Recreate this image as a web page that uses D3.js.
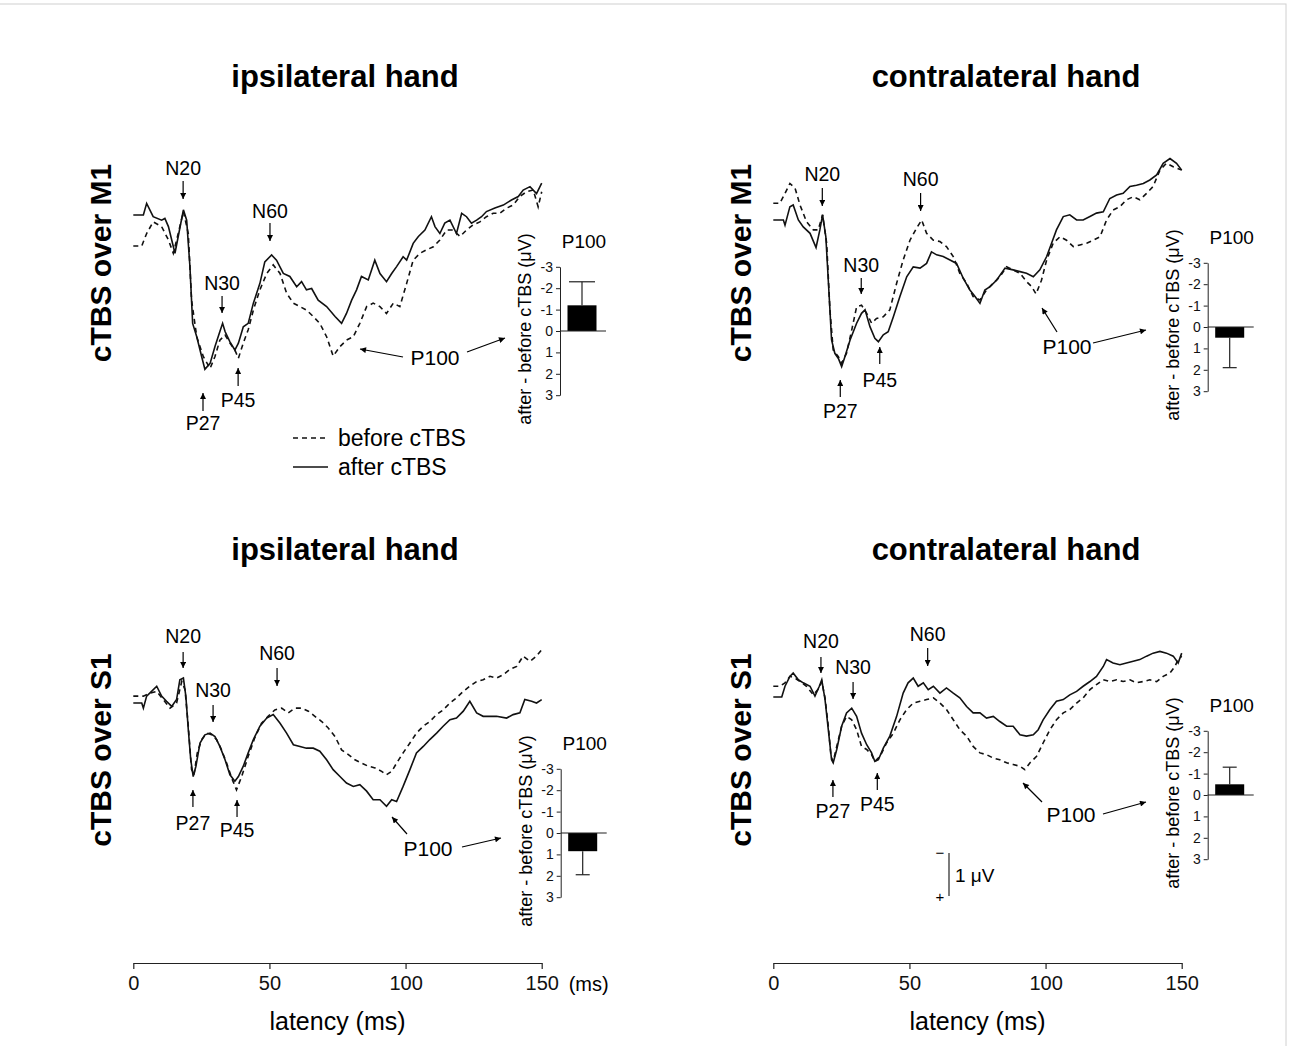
<!DOCTYPE html>
<html>
<head>
<meta charset="utf-8">
<script src="https://cdn.jsdelivr.net/npm/d3@7"></script>
<style>
body { margin: 0; background: #fff; }
svg { display: block; font-family: Arial, "Liberation Sans", sans-serif; }
</style>
</head>
<body>
<div id="chart"></div>
<script>
// grand-average SEPs, [latency ms, amplitude µV] (negative up)
var m1IpsiBefore = [[0,0.72],[3.1,0.72],[4.9,0.43],[7.3,0.16],[10.4,0.27],[12.9,0.58],[14.7,0.89],[16.5,0.43],[18.4,-0.08],[20.2,0.43],[21.4,1.98],[23.3,2.83],[25.7,3.29],[28.2,3.57],[30,3.29],[31.8,2.91],[33.7,2.79],[35.5,2.98],[37.3,3.14],[38.6,3.33],[40.4,2.98],[42.2,2.67],[44.1,2.21],[46.5,1.74],[49,1.36],[51.4,1.16],[53.9,1.36],[56.3,1.82],[58.8,2.05],[61.2,2.13],[63.6,2.21],[66.1,2.36],[68.5,2.52],[71,2.83],[73.4,3.28],[75.9,3.06],[78.3,2.91],[80.8,2.83],[83.2,2.52],[85.7,2.13],[88.1,2.05],[90.6,2.13],[93,2.29],[95.5,2.05],[97.9,2.13],[100.4,1.59],[102.8,1.05],[105.3,0.89],[107.7,0.81],[110.2,0.74],[112.6,0.58],[115.1,0.35],[117.5,0.35],[120,0.5],[122.4,0.35],[124.8,0.23],[127.3,0.16],[129.7,0.04],[132.2,-0.04],[134.6,-0.04],[137.1,-0.16],[139.5,-0.23],[142,-0.43],[144.4,-0.54],[146.9,-0.58],[148.7,-0.19],[150,-0.54]];
var m1IpsiAfter = [[0,0],[3.7,0],[4.9,-0.27],[7.3,0.04],[10.4,0.12],[11.6,0.08],[12.9,0.27],[15.3,0.89],[16.5,0.5],[18.4,-0.12],[19.6,0.12],[20.8,1.2],[21.8,2.52],[23.3,2.83],[25.1,3.29],[26.3,3.59],[28.2,3.45],[30,3.06],[31.8,2.71],[32.8,2.52],[33.7,2.71],[35.5,2.95],[37.3,3.14],[38.6,2.98],[40.4,2.6],[42.2,2.52],[44.1,2.05],[46.5,1.59],[48.3,1.09],[50.8,0.93],[52.6,1.05],[55.1,1.36],[57.5,1.43],[60,1.67],[61.8,1.55],[63.6,1.74],[65.5,1.71],[67.9,1.98],[71,2.13],[74.1,2.36],[76.5,2.52],[78.3,2.29],[80.2,1.98],[82,1.74],[83.8,1.43],[86.3,1.51],[88.7,1.05],[90.6,1.36],[93,1.55],[94.9,1.36],[96.7,1.2],[99.1,0.97],[100.4,1.05],[102.8,0.66],[104.7,0.5],[107.1,0.35],[109.5,0.04],[110.8,0.27],[112.6,0.43],[114.4,0.19],[116.3,0.12],[118.7,0.43],[120.6,-0.04],[122.4,0.04],[124.2,0.19],[126.1,0.12],[127.9,0.04],[129.7,-0.08],[132.8,-0.16],[135.9,-0.23],[138.9,-0.35],[141.4,-0.43],[143.2,-0.58],[145.7,-0.66],[148.1,-0.5],[150,-0.74]];

var m1ContraBefore = [[0,-0.39],[2.4,-0.39],[4.3,-0.62],[6.1,-0.85],[8,-0.74],[9.8,-0.35],[12.2,0.04],[14.7,0.23],[16.5,0.23],[18.1,-0.12],[19.6,0.54],[20.8,2.09],[22,3.02],[23.9,3.18],[25.1,3.33],[26.9,3.1],[28.8,2.56],[30.6,2.02],[32.4,1.98],[34.3,2.17],[36.1,2.4],[37.9,2.29],[40.4,2.25],[42.8,2.09],[45.3,1.47],[47.7,0.93],[50.2,0.47],[52.6,0.19],[54.5,0],[56.3,0.31],[58.8,0.47],[61.2,0.5],[63.6,0.62],[66.1,0.85],[68.5,1.24],[71,1.47],[73.4,1.78],[75.9,1.86],[78.3,1.63],[80.8,1.47],[83.2,1.32],[85.7,1.09],[88.1,1.16],[90.6,1.24],[93,1.43],[94.9,1.55],[96.5,1.72],[98.5,1.4],[100.4,0.93],[102.8,0.54],[105.3,0.39],[107.7,0.47],[110.2,0.62],[112.6,0.58],[115.1,0.54],[117.5,0.47],[120,0.39],[122.4,0],[124.8,-0.23],[127.3,-0.31],[129.7,-0.47],[132.2,-0.54],[134.6,-0.47],[137.1,-0.62],[139.5,-0.78],[142,-1.16],[144.4,-1.32],[146.9,-1.24],[150,-1.16]];
var m1ContraAfter = [[0,0],[3.7,0],[4.3,0.12],[6.1,-0.31],[7.3,-0.35],[9.2,0],[11,0.16],[13.5,0.31],[15.7,0.64],[17.1,0.23],[18.1,-0.12],[19.3,0.39],[20.6,1.86],[21.4,2.79],[22.6,3.1],[23.9,3.22],[25.1,3.41],[26.3,3.18],[28.2,2.79],[30.6,2.4],[32.4,2.17],[33.7,2.09],[35.5,2.48],[37.3,2.75],[38.6,2.83],[40.4,2.67],[42.2,2.6],[44.1,2.25],[46.5,1.78],[49,1.32],[51.4,1.09],[53.9,1.12],[56.3,1.01],[58.1,0.74],[60,0.81],[62.4,0.85],[64.9,0.93],[67.3,1.01],[69.8,1.36],[72.2,1.63],[74.1,1.78],[75.9,1.94],[77.7,1.63],[79.6,1.55],[82,1.4],[85.1,1.12],[88.1,1.16],[90.6,1.2],[93,1.24],[95.5,1.32],[97.9,1.16],[100.4,0.85],[102.2,0.54],[104,0.23],[106.5,-0.08],[108.9,-0.12],[111.4,0],[113.8,0],[116.3,-0.08],[118.7,-0.16],[121.2,-0.19],[123.6,-0.5],[126.1,-0.58],[128.5,-0.62],[131,-0.78],[133.4,-0.81],[135.9,-0.85],[138.3,-0.93],[140.8,-1.05],[143.2,-1.32],[145.7,-1.43],[148.1,-1.32],[150,-1.16]];

var s1IpsiBefore = [[0,-0.16],[3.7,-0.16],[6.1,-0.23],[8.6,-0.27],[11,-0.08],[13.5,0.12],[15.9,0],[17.8,-0.5],[19,-0.31],[20.2,0.54],[21.4,1.55],[22.3,1.67],[23.5,1.16],[25.1,0.85],[26.9,0.7],[28.8,0.74],[30.6,0.85],[32.4,1.09],[34.3,1.4],[36.1,1.74],[37.9,2.02],[39.8,1.71],[42.2,1.24],[44.6,0.81],[47.1,0.47],[49.5,0.31],[52,0.16],[54.5,0.12],[56.9,0.23],[59.4,0.12],[61.8,0.12],[64.3,0.19],[66.7,0.31],[69.2,0.43],[71.6,0.58],[74.1,0.78],[76.5,1.09],[79,1.2],[81.4,1.32],[83.9,1.4],[86.3,1.47],[88.8,1.51],[91.2,1.59],[93,1.67],[94.9,1.59],[96.7,1.4],[99.1,1.16],[101.6,0.93],[104,0.7],[106.5,0.54],[108.9,0.43],[111.4,0.27],[113.8,0.16],[116.3,0],[118.7,-0.12],[121.2,-0.27],[123.6,-0.39],[126.1,-0.5],[128.5,-0.54],[131,-0.62],[133.4,-0.58],[135.9,-0.66],[138.3,-0.78],[140.8,-0.85],[143.2,-1.09],[145.7,-0.97],[148.1,-1.09],[150,-1.24]];
var s1IpsiAfter = [[0,0],[3.1,0],[3.7,0.12],[4.9,-0.16],[6.7,-0.27],[8.6,-0.39],[10.4,-0.16],[12.2,-0.04],[14.1,0.08],[15.9,-0.08],[17.1,-0.54],[18.4,-0.58],[19.3,-0.16],[20.2,0.62],[21.1,1.32],[22,1.71],[23,1.47],[24.5,0.93],[26.3,0.74],[28.2,0.7],[30,0.78],[31.8,1.01],[33.7,1.32],[35.5,1.67],[37.3,1.82],[38.6,1.71],[40.4,1.47],[42.2,1.16],[44.1,0.85],[46.5,0.54],[49,0.35],[51.4,0.27],[53.9,0.47],[56.3,0.7],[58.8,0.97],[61.2,1.01],[63.6,1.05],[66.1,1.05],[68.5,1.12],[71,1.32],[73.4,1.55],[75.9,1.71],[78.3,1.86],[80.8,1.94],[83.2,1.9],[85.7,2.05],[88.1,2.25],[90.6,2.25],[93,2.4],[94.9,2.25],[96.7,2.29],[99.1,1.94],[101.6,1.55],[104,1.16],[106.5,1.01],[108.9,0.85],[111.4,0.7],[113.8,0.54],[116.3,0.39],[118.7,0.35],[121.2,0.19],[123.6,-0.04],[126.1,0.23],[128.5,0.31],[131,0.31],[133.4,0.31],[137.1,0.35],[139.5,0.27],[142,0.23],[143.8,-0.08],[146.3,-0.04],[148.1,0],[150,-0.08]];

var s1ContraBefore = [[0,-0.25],[2.4,-0.25],[4.3,-0.33],[6.1,-0.48],[8,-0.44],[9.8,-0.36],[12.2,-0.25],[14.7,-0.05],[16.9,-0.21],[17.8,-0.36],[19,0.02],[20.2,0.68],[21.2,1.38],[22,1.5],[23.3,1.15],[25.1,0.68],[26.9,0.45],[28.8,0.53],[30.6,0.76],[32.4,1.15],[34.3,1.22],[36.1,1.34],[37.3,1.5],[39.2,1.38],[41.6,1.07],[44.1,0.84],[46.5,0.53],[49,0.29],[51.4,0.14],[53.9,0.1],[56.3,0.06],[58.8,0.02],[61.2,0.14],[63.6,0.29],[66.1,0.53],[68.5,0.76],[71,0.91],[73.4,1.15],[75.9,1.3],[78.3,1.34],[80.8,1.42],[83.2,1.46],[85.7,1.53],[88.1,1.57],[90.6,1.61],[92.4,1.69],[94.3,1.53],[96.7,1.38],[99.1,1.07],[101.6,0.76],[104,0.53],[106.5,0.37],[108.9,0.29],[111.4,0.14],[113.8,0.02],[116.3,-0.17],[118.7,-0.29],[121.2,-0.4],[123.6,-0.36],[126.1,-0.4],[128.5,-0.36],[131,-0.4],[133.4,-0.33],[135.9,-0.36],[138.3,-0.4],[140.8,-0.36],[143.2,-0.48],[145.7,-0.56],[147.5,-0.71],[148.7,-0.87],[150,-0.95]];
var s1ContraAfter = [[0,0],[3.1,0],[4.3,-0.25],[6.1,-0.48],[7.3,-0.56],[9.2,-0.4],[11,-0.33],[13.5,-0.25],[15.3,-0.02],[16.9,-0.25],[17.8,-0.4],[19,0.06],[20.2,0.76],[21.4,1.46],[22,1.53],[23.3,1.22],[25.1,0.68],[26.9,0.37],[28.8,0.26],[30.6,0.45],[32.4,0.84],[34.3,1.11],[36.1,1.3],[37.3,1.5],[38.6,1.46],[40.4,1.19],[42.8,0.91],[45.3,0.45],[47.7,-0.09],[49.5,-0.33],[51.4,-0.44],[53.2,-0.25],[55.1,-0.33],[56.9,-0.17],[58.8,-0.25],[61.2,-0.09],[63.6,-0.21],[66.1,-0.09],[68.5,0.02],[71,0.22],[73.4,0.37],[75.9,0.37],[78.3,0.49],[80.8,0.45],[83.2,0.57],[85.7,0.68],[88.1,0.68],[90.6,0.88],[93,0.91],[95.5,0.88],[97.3,0.76],[99.1,0.53],[101.6,0.29],[104,0.1],[106.5,0.06],[108.9,-0.05],[111.4,-0.13],[113.8,-0.25],[116.3,-0.36],[118.7,-0.48],[121.2,-0.71],[122.4,-0.87],[124.8,-0.79],[127.3,-0.75],[129.7,-0.79],[132.2,-0.83],[134.6,-0.87],[137.1,-0.95],[139.5,-1.02],[142,-1.06],[144.4,-1.02],[146.9,-0.95],[148.7,-0.79],[150,-1.02]];

// P100 change, after - before cTBS (µV), and error bar length
var p100Change = [-1.2, 0.5, 0.85, -0.5];
var p100Err = [1.1, 1.4, 1.1, 0.8];
var changeTicks = [-3, -2, -1, 0, 1, 2, 3];
var latencyTicks = [0, 50, 100, 150];

const width = 1289;
const height = 1046;
const uvPx = 43; // px per µV of the traces (see 1 µV bar)

const svg = d3.select('#chart').append('svg')
  .attr('width', width)
  .attr('height', height);

svg.append('rect')
  .attr('x', -2).attr('y', 4)
  .attr('width', 1288).attr('height', 1060)
  .attr('fill', 'none')
  .attr('stroke', '#d0d0d0');

svg.append('defs').append('marker')
  .attr('id', 'head')
  .attr('viewBox', '0 0 10 10')
  .attr('refX', 10).attr('refY', 5)
  .attr('markerUnits', 'userSpaceOnUse')
  .attr('markerWidth', 7).attr('markerHeight', 6)
  .attr('orient', 'auto')
  .append('path')
  .attr('d', 'M0,0L10,5L0,10z')
  .attr('fill', '#000');

// panel layout
var panels = [
  { before: m1IpsiBefore, after: m1IpsiAfter, x0: 133.3, base: 215,
    bar: { axisX: 560, zeroY: 331, capW: 26 },
    peaks: [
      { name: 'N20', lat: 18.3, ty: 175, y1: 181, y2: 199 },
      { name: 'N30', lat: 32.6, ty: 290, y1: 296, y2: 313 },
      { name: 'N60', lat: 50.2, ty: 218, y1: 223, y2: 241 },
      { name: 'P27', lat: 25.6, ty: 430, y1: 411, y2: 393 },
      { name: 'P45', lat: 38.5, ty: 407, y1: 386, y2: 368 }],
    p100: { tx: 435, ty: 365, arrows: [[403, 357, 360, 349], [467, 352, 505, 338]] } },
  { before: m1ContraBefore, after: m1ContraAfter, x0: 773.3, base: 220,
    bar: { axisX: 1207.7, zeroY: 327, capW: 14 },
    peaks: [
      { name: 'N20', lat: 18.0, ty: 181, y1: 188, y2: 206 },
      { name: 'N30', lat: 32.3, ty: 272, y1: 278, y2: 294 },
      { name: 'N60', lat: 54.1, ty: 186, y1: 193, y2: 211 },
      { name: 'P27', lat: 24.6, ty: 418, y1: 397, y2: 380 },
      { name: 'P45', lat: 39.1, ty: 387, y1: 364, y2: 347 }],
    p100: { tx: 1067, ty: 354, arrows: [[1057, 332, 1042, 308], [1093, 343, 1146, 330]] } },
  { before: s1IpsiBefore, after: s1IpsiAfter, x0: 133.3, base: 703,
    bar: { axisX: 560.7, zeroY: 833, capW: 14 },
    peaks: [
      { name: 'N20', lat: 18.3, ty: 643, y1: 652, y2: 668 },
      { name: 'N30', lat: 29.3, ty: 697, y1: 705, y2: 722 },
      { name: 'N60', lat: 52.8, ty: 660, y1: 668, y2: 686 },
      { name: 'P27', lat: 21.9, ty: 830, y1: 807, y2: 790 },
      { name: 'P45', lat: 38.1, ty: 837, y1: 817, y2: 800 }],
    p100: { tx: 428, ty: 856, arrows: [[407, 834, 392, 817], [462, 847, 501, 838]] } },
  { before: s1ContraBefore, after: s1ContraAfter, x0: 773.3, base: 697,
    bar: { axisX: 1207.7, zeroY: 795, capW: 14 },
    peaks: [
      { name: 'N20', lat: 17.5, ty: 648, y1: 657, y2: 673 },
      { name: 'N30', lat: 29.3, ty: 674, y1: 682, y2: 699 },
      { name: 'N60', lat: 56.7, ty: 641, y1: 648, y2: 666 },
      { name: 'P27', lat: 21.9, ty: 818, y1: 797, y2: 780 },
      { name: 'P45', lat: 38.2, ty: 811, y1: 790, y2: 773 }],
    p100: { tx: 1071, ty: 822, arrows: [[1042, 802, 1023, 783], [1103, 814, 1146, 802]] } }
];

panels.forEach(function(p, i) {
  var x = d3.scaleLinear().domain([0, 150]).range([p.x0, p.x0 + 408.4]);
  var y = d3.scaleLinear().domain([0, 1]).range([p.base, p.base + uvPx]);
  p.x = x; p.y = y;

  var line = d3.line().x(d => x(d[0])).y(d => y(d[1]));

  var g = svg.append('g');
  g.append('path').datum(p.before)
    .attr('d', line)
    .attr('fill', 'none')
    .attr('stroke', '#111')
    .attr('stroke-width', 1.6)
    .attr('stroke-dasharray', '5,4');
  g.append('path').datum(p.after)
    .attr('d', line)
    .attr('fill', 'none')
    .attr('stroke', '#111')
    .attr('stroke-width', 1.6);

  // peak labels
  p.peaks.forEach(function(k) {
    g.append('text')
      .attr('x', x(k.lat)).attr('y', k.ty)
      .attr('text-anchor', 'middle')
      .style('font-size', '19.5px')
      .text(k.name);
    g.append('line')
      .attr('x1', x(k.lat)).attr('x2', x(k.lat))
      .attr('y1', k.y1).attr('y2', k.y2)
      .attr('stroke', '#000').attr('stroke-width', 1.2)
      .attr('marker-end', 'url(#head)');
  });
  g.append('text')
    .attr('x', p.p100.tx).attr('y', p.p100.ty)
    .attr('text-anchor', 'middle')
    .style('font-size', '21px')
    .text('P100');
  p.p100.arrows.forEach(function(a) {
    g.append('line')
      .attr('x1', a[0]).attr('y1', a[1]).attr('x2', a[2]).attr('y2', a[3])
      .attr('stroke', '#000').attr('stroke-width', 1.2)
      .attr('marker-end', 'url(#head)');
  });

  // P100 difference inset
  var b = p.bar;
  var by = d3.scaleLinear().domain([-3, 3]).range([b.zeroY - 64.2, b.zeroY + 64.2]);
  var bx = d3.scaleBand().domain(['P100']).range([b.axisX + 7.5, b.axisX + 36.5]);
  var ins = svg.append('g');
  var ax = ins.append('g')
    .attr('transform', 'translate(' + b.axisX + ',0)')
    .call(d3.axisLeft(by).tickValues(changeTicks).tickSize(4).tickSizeOuter(0).tickPadding(3)
      .tickFormat(d => String(d)));
  ax.selectAll('path, line').attr('stroke', '#222');
  ax.selectAll('text').style('font-size', '14px').style('font-family', 'Arial, "Liberation Sans", sans-serif').attr('fill', '#111');

  var v = p100Change[i];
  var e = v + Math.sign(v) * p100Err[i];
  var cx = bx('P100') + bx.bandwidth() / 2;
  ins.append('line')
    .attr('x1', cx).attr('x2', cx)
    .attr('y1', by(v)).attr('y2', by(e))
    .attr('stroke', '#222').attr('stroke-width', 1.2);
  ins.append('line')
    .attr('x1', cx - b.capW / 2).attr('x2', cx + b.capW / 2)
    .attr('y1', by(e)).attr('y2', by(e))
    .attr('stroke', '#222').attr('stroke-width', 1.2);
  ins.append('rect')
    .attr('x', bx('P100'))
    .attr('y', Math.min(by(0), by(v)))
    .attr('width', bx.bandwidth())
    .attr('height', Math.abs(by(v) - by(0)))
    .attr('fill', '#000');
  ins.append('line')
    .attr('x1', b.axisX).attr('x2', b.axisX + 46)
    .attr('y1', by(0)).attr('y2', by(0))
    .attr('stroke', '#222').attr('stroke-width', 1.1);
  ins.append('text')
    .attr('x', cx + 2).attr('y', b.zeroY - 83)
    .attr('text-anchor', 'middle')
    .style('font-size', '19px')
    .text('P100');
  ins.append('text')
    .attr('transform', 'translate(' + (b.axisX - 35) + ',' + (b.zeroY - 2) + ') rotate(-90)')
    .attr('text-anchor', 'middle')
    .attr('dominant-baseline', 'central')
    .style('font-size', '18px')
    .text('after - before cTBS (μV)');
});

// titles
var titles = [['ipsilateral hand', 345, 87], ['contralateral hand', 1006, 87],
              ['ipsilateral hand', 345, 560], ['contralateral hand', 1006, 560]];
titles.forEach(function(t) {
  svg.append('text')
    .attr('x', t[1]).attr('y', t[2])
    .attr('text-anchor', 'middle')
    .style('font-size', '31px').style('font-weight', 'bold')
    .text(t[0]);
});
var rowLabels = [['cTBS over M1', 100, 263], ['cTBS over M1', 740, 263],
                 ['cTBS over S1', 100, 750], ['cTBS over S1', 740, 750]];
rowLabels.forEach(function(t) {
  svg.append('text')
    .attr('transform', 'translate(' + t[1] + ',' + t[2] + ') rotate(-90)')
    .attr('text-anchor', 'middle')
    .attr('dominant-baseline', 'central')
    .style('font-size', '30px').style('font-weight', 'bold')
    .text(t[0]);
});

// legend
var legend = svg.append('g');
[['before cTBS', 438, '5,4'], ['after cTBS', 467, null]].forEach(function(l) {
  legend.append('line')
    .attr('x1', 293).attr('x2', 328).attr('y1', l[1]).attr('y2', l[1])
    .attr('stroke', '#111').attr('stroke-width', 1.6)
    .attr('stroke-dasharray', l[2]);
  legend.append('text')
    .attr('x', 338).attr('y', l[1] + 7.5)
    .style('font-size', '23px')
    .text(l[0]);
});

// latency axes (bottom row)
[panels[2], panels[3]].forEach(function(p, j) {
  var ag = svg.append('g')
    .attr('transform', 'translate(0,963)')
    .call(d3.axisBottom(p.x).tickValues(latencyTicks).tickSize(6).tickSizeOuter(0).tickPadding(7));
  ag.selectAll('path, line').attr('stroke', '#222').attr('stroke-width', 1.2);
  ag.selectAll('text').style('font-size', '20px').style('font-family', 'Arial, "Liberation Sans", sans-serif').attr('fill', '#111');
  svg.append('text')
    .attr('x', p.x(75)).attr('y', 1030)
    .attr('text-anchor', 'middle')
    .style('font-size', '25px')
    .text('latency (ms)');
  if (j === 0) {
    svg.append('text')
      .attr('x', p.x(150) + 27).attr('y', 991)
      .style('font-size', '20px')
      .text('(ms)');
  }
});

// 1 µV calibration bar
var yD = panels[3].y;
var calTop = 853;
var calH = yD(1) - yD(0);
svg.append('line')
  .attr('x1', 949).attr('x2', 949)
  .attr('y1', calTop).attr('y2', calTop + calH)
  .attr('stroke', '#444').attr('stroke-width', 1.4);
svg.append('text').attr('x', 940).attr('y', calTop + 5)
  .attr('text-anchor', 'middle').style('font-size', '15px').text('−');
svg.append('text').attr('x', 940).attr('y', calTop + calH + 6)
  .attr('text-anchor', 'middle').style('font-size', '15px').text('+');
svg.append('text').attr('x', 955).attr('y', calTop + calH / 2 + 7)
  .style('font-size', '19px').text('1 μV');
</script>
</body>
</html>
